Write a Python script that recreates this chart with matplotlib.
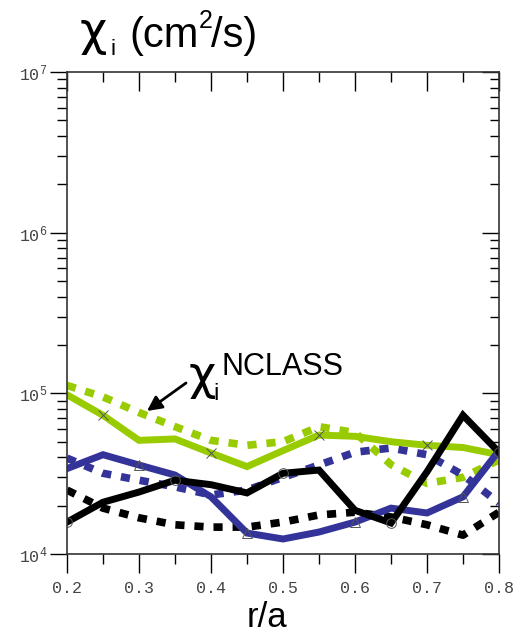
import math
import matplotlib
matplotlib.use("Agg")
import matplotlib.pyplot as plt
from matplotlib.patches import FancyArrowPatch
from matplotlib.ticker import LogLocator, FixedLocator, NullFormatter

r_a = [0.2, 0.25, 0.3, 0.35, 0.4, 0.45, 0.5, 0.55, 0.6, 0.65, 0.7, 0.75, 0.8]

green_solid = [98000, 73000, 51000, 52000, 42500, 35000, 44000, 55000, 54000, 50000, 47500, 46000, 41500]
green_dotted = [112000, 95000, 76000, 62000, 51000, 47500, 50000, 62000, 57000, 36000, 27500, 30000, 38500]
blue_solid = [34000, 41500, 35800, 31000, 22700, 13500, 12400, 13700, 15800, 19300, 18000, 22700, 44000]
blue_dotted = [39500, 31800, 28800, 26200, 23300, 25000, 30000, 35800, 43000, 45700, 41500, 31000, 20800]
black_solid = [15800, 21000, 24300, 28800, 27000, 24000, 31800, 33300, 18700, 15600, 32500, 73000, 43000]
black_dotted = [25000, 19300, 16800, 15200, 14700, 14700, 15800, 17500, 18200, 17000, 15200, 13100, 18200]

x_ticks = [0.2, 0.3, 0.4, 0.5, 0.6, 0.7, 0.8]
x_minor = [0.25, 0.35, 0.45, 0.55, 0.65, 0.75]
y_ticks = [1e4, 1e5, 1e6, 1e7]

GREEN = "#99cc00"
BLUE = "#333399"
BLACK = "#000000"

W, H = 527, 633
fig = plt.figure(figsize=(W / 100, H / 100), dpi=100)
ax = fig.add_axes([67 / W, 1 - 554 / H, (499 - 67) / W, (554 - 72) / H])


def fp(px, py):
    return (px / W, 1 - py / H)


dot = dict(linestyle=(0, (1.2, 1.3)), linewidth=5.5, dash_capstyle="butt")
sol = dict(linestyle="-", linewidth=5, solid_joinstyle="miter")

ax.plot(r_a, green_dotted, color=GREEN, **dot)
ax.plot(r_a, blue_dotted, color=BLUE, **dot)
ax.plot(r_a, black_dotted, color=BLACK, **dot)
ax.plot(r_a, green_solid, color=GREEN, **sol)
ax.plot(r_a, blue_solid, color=BLUE, **sol)
ax.plot(r_a, black_solid, color=BLACK, **sol)

ax.plot(r_a, green_solid, linestyle="none", marker="x", markersize=7, color="#555555",
        markeredgewidth=0.7, markevery=(1, 3))
ax.plot(r_a, blue_solid, linestyle="none", marker="^", markersize=7, markerfacecolor="none",
        markeredgecolor="#555555", markeredgewidth=0.7, markevery=(2, 3))
ax.plot(r_a, black_solid, linestyle="none", marker="o", markersize=7, markerfacecolor="none",
        markeredgecolor="#555555", markeredgewidth=0.7, markevery=(0, 3))

ax.set_yscale("log")
ax.set_xlim(0.2, 0.8)
ax.set_ylim(1e4, 1e7)

ax.xaxis.set_major_locator(FixedLocator(x_ticks))
ax.xaxis.set_minor_locator(FixedLocator(x_minor))
ax.yaxis.set_major_locator(FixedLocator(y_ticks))
ax.yaxis.set_minor_locator(LogLocator(base=10, subs=range(2, 10)))
ax.yaxis.set_minor_formatter(NullFormatter())

mono = "Liberation Mono"
ax.set_xticklabels([f"{v:.1f}" for v in x_ticks], family=mono, fontsize=12, color="#444444")
ax.set_yticklabels([f"$\\mathregular{{10^{{{int(round(math.log10(v)))}}}}}$" for v in y_ticks],
                   family=mono, fontsize=12, color="#444444")

ax.tick_params(axis="x", which="major", direction="out", length=13.5, width=1, pad=6, top=True)
ax.tick_params(axis="x", which="minor", direction="out", length=7, width=1, top=True)
ax.tick_params(axis="y", which="major", direction="out", length=12, width=1, pad=2, right=True)
ax.tick_params(axis="y", which="minor", direction="out", length=7, width=1, right=True)
# top and right ticks point inward
for t in ax.xaxis.get_major_ticks() + ax.xaxis.get_minor_ticks():
    t.tick2line.set_marker(3)
for t in ax.yaxis.get_major_ticks() + ax.yaxis.get_minor_ticks():
    t.tick2line.set_marker(0)
for t in ax.xaxis.get_major_ticks():
    t.tick2line.set_markersize(13.5)
for t in ax.xaxis.get_minor_ticks():
    t.tick2line.set_markersize(7)
for t in ax.yaxis.get_major_ticks():
    t.tick2line.set_markersize(12)
for t in ax.yaxis.get_minor_ticks():
    t.tick2line.set_markersize(6.5)

for s in ax.spines.values():
    s.set_linewidth(1.2)
    s.set_color("#333333")

sans = "Liberation Sans"
greek = "DejaVu Sans"
# Title: chi_i (cm^2/s)
fig.text(*fp(80, 45), "χ", family=greek, fontsize=34, ha="left", va="baseline")
fig.text(*fp(110, 55), "i", family=sans, fontsize=16, ha="left", va="baseline")
fig.text(*fp(129, 47), "(cm", family=sans, fontsize=30, ha="left", va="baseline")
fig.text(*fp(199, 28), "2", family=sans, fontsize=18, ha="left", va="baseline")
fig.text(*fp(211, 47), "/s)", family=sans, fontsize=30, ha="left", va="baseline")

# x label
fig.text(*fp(267, 627), "r/a", family=sans, fontsize=25, ha="center", va="baseline")

# annotation chi_i^NCLASS
fig.text(*fp(189, 389), "χ", family=greek, fontsize=34, ha="left", va="baseline")
fig.text(*fp(213, 400), "i", family=sans, fontsize=17, ha="left", va="baseline")
fig.text(*fp(222, 375), "NCLASS", family=sans, fontsize=22, ha="left", va="baseline")
fig.add_artist(FancyArrowPatch(
    fp(186, 383), fp(147, 411), transform=fig.transFigure,
    arrowstyle="-|>", mutation_scale=22, color="black", lw=2, shrinkA=0, shrinkB=0))

fig.savefig("out.png", dpi=100)
